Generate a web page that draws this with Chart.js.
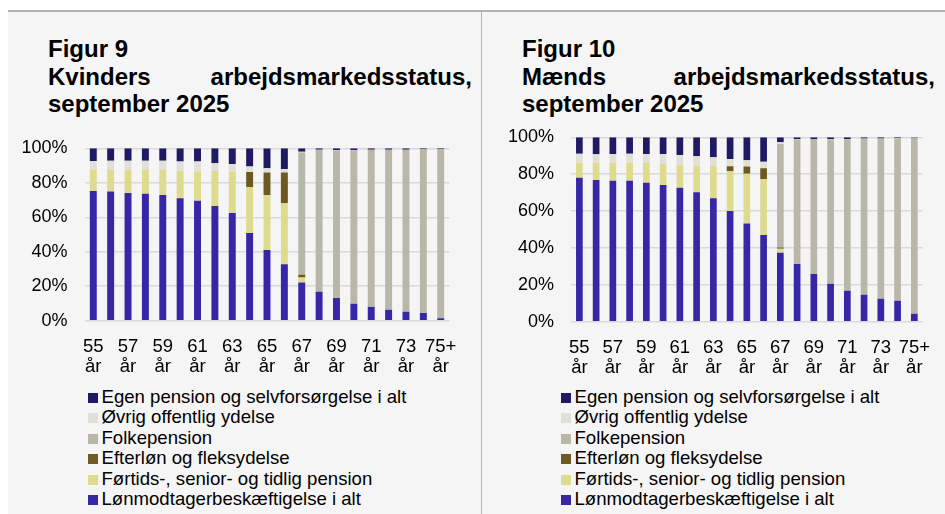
<!DOCTYPE html>
<html>
<head>
<meta charset="utf-8">
<script src="https://cdn.jsdelivr.net/npm/chart.js@4"></script>
<style>
  body { margin: 0; background: #fff; font-family: "Liberation Sans", Arial, sans-serif; color: #000; }
  .wrap { position: relative; width: 945px; height: 514px; overflow: hidden; }
  .panel { position: absolute; top: 11px; height: 503px; background: #f5f5f5; }
  .topline { position: absolute; left: 8px; top: 10px; width: 937px; height: 1.5px; background: #b3b3b3; }
  .sep { position: absolute; left: 480.5px; top: 11px; width: 1.5px; height: 503px; background: #b3b3b3; }
  .title { position: absolute; top: 35px; font-weight: bold; font-size: 24px; line-height: 27.5px; }
  .title .row { display: flex; justify-content: space-between; }
  canvas { position: absolute; }
  .legend { position: absolute; top: 387px; font-size: 18.6px; line-height: 20.4px; }
  .legend div { white-space: nowrap; }
  .legend span { display: inline-block; width: 10px; height: 10px; margin-right: 3.5px; vertical-align: 0px; }
</style>
</head>
<body>
<div class="wrap">
  <div class="panel" style="left:8px; width:473px;"></div>
  <div class="panel" style="left:482px; width:463px;"></div>
  <div class="topline"></div>
  <div class="sep"></div>

  <div class="title" style="left:48px; width:424px;">
    <div>Figur 9</div>
    <div class="row"><span>Kvinders</span><span>arbejdsmarkedsstatus,</span></div>
    <div>september 2025</div>
  </div>
  <div class="title" style="left:522px; width:413px;">
    <div>Figur 10</div>
    <div class="row"><span>Mænds</span><span>arbejdsmarkedsstatus,</span></div>
    <div>september 2025</div>
  </div>

  <canvas id="kvinder" width="470" height="260" style="left:0px; top:120px;"></canvas>
  <canvas id="maend" width="463" height="272" style="left:482px; top:109px;"></canvas>

  <div class="legend" id="legendK" style="left:88px;"></div>
  <div class="legend" id="legendM" style="left:561px;"></div>
</div>

<script>
let ages = ["55", "56", "57", "58", "59", "60", "61", "62", "63", "64", "65",
  "66", "67", "68", "69", "70", "71", "72", "73", "74", "75+"];

let seriesNames = [
  "Lønmodtagerbeskæftigelse i alt",
  "Førtids-, senior- og tidlig pension",
  "Efterløn og fleksydelse",
  "Folkepension",
  "Øvrig offentlig ydelse",
  "Egen pension og selvforsørgelse i alt"
];
let seriesColors = ["#3726a6", "#dedb8f", "#6c5a22", "#b9b7a7", "#e0dfd8", "#201a64"];

// Kvinder (pct.)
let kvLoen = [75.2, 75.0, 74.1, 73.7, 72.9, 71.0, 69.6, 66.5, 62.5, 50.9, 41.0, 32.7, 22.1, 16.8, 13.2, 9.9, 7.9, 6.4, 5.2, 4.4, 1.4];
let kvFoertid = [12.2, 12.4, 13.3, 13.7, 14.5, 15.8, 16.9, 20.3, 24.0, 26.7, 31.9, 35.4, 2.9, 0, 0, 0, 0, 0, 0, 0, 0];
let kvEfterloen = [0, 0, 0, 0, 0, 0, 0, 0, 0, 8.7, 13.0, 17.8, 1.7, 0, 0, 0, 0, 0, 0, 0, 0];
let kvFolke = [0, 0, 0, 0, 0, 0, 0, 0, 0, 0, 0, 0, 70.8, 82.2, 85.4, 88.7, 91.1, 92.6, 93.8, 95.0, 98.0];
let kvOevrig = [5.2, 5.4, 5.4, 5.4, 5.4, 5.5, 5.8, 4.5, 4.4, 3.1, 2.5, 2.1, 0.5, 0.2, 0.2, 0.2, 0.2, 0.2, 0.2, 0.1, 0.1];
let kvEgen = [7.4, 7.2, 7.2, 7.2, 7.2, 7.7, 7.7, 8.7, 9.1, 10.6, 11.6, 12.0, 2.0, 0.8, 1.2, 1.2, 0.8, 0.8, 0.8, 0.5, 0.5];

// Mænd (pct.)
let mLoen = [78.1, 76.9, 76.5, 76.5, 75.4, 74.1, 72.7, 70.2, 66.9, 60.0, 53.2, 47.0, 37.4, 31.3, 25.9, 20.6, 16.8, 14.6, 12.5, 11.4, 4.3];
let mFoertid = [8.2, 9.4, 9.8, 9.8, 10.9, 11.4, 12.3, 14.4, 17.7, 21.6, 27.1, 30.4, 2.2, 0, 0, 0, 0, 0, 0, 0, 0];
let mEfterloen = [0, 0, 0, 0, 0, 0, 0, 0, 0, 2.7, 3.8, 5.8, 0.7, 0, 0, 0, 0, 0, 0, 0, 0];
let mFolke = [0, 0, 0, 0, 0, 0, 0, 0, 0, 0, 0, 0, 56.1, 67.4, 72.7, 78.3, 82.1, 84.7, 86.8, 88.1, 95.5];
let mOevrig = [4.8, 4.5, 4.7, 4.8, 4.7, 5.5, 5.4, 5.1, 4.6, 3.9, 3.4, 3.6, 0.9, 0.2, 0.2, 0.2, 0.2, 0.1, 0.1, 0.1, 0];
let mEgen = [8.9, 9.2, 9.0, 8.9, 9.0, 9.0, 9.6, 10.3, 10.8, 11.8, 12.5, 13.2, 2.7, 1.1, 1.2, 0.9, 0.9, 0.6, 0.6, 0.4, 0.2];

let yTicks = [0, 20, 40, 60, 80, 100];
let fontFamily = '"Liberation Sans", Arial, sans-serif';

function makeChart(id, values, axisWidth, padding) {
  let ctx = document.getElementById(id).getContext("2d");
  let datasets = values.map(function (data, i) {
    return {
      label: seriesNames[i],
      data: data,
      backgroundColor: seriesColors[i],
      borderWidth: 0,
      barPercentage: 0.8,
      categoryPercentage: 0.5
    };
  });

  return new Chart(ctx, {
    type: "bar",
    data: { labels: ages, datasets: datasets },
    options: {
      responsive: false,
      animation: false,
      devicePixelRatio: 1,
      layout: { padding: padding },
      plugins: { legend: { display: false }, tooltip: { enabled: false } },
      scales: {
        x: {
          stacked: true,
          grid: { display: false },
          border: { display: false },
          afterFit: function (scale) { scale.height = 55; },
          ticks: {
            autoSkip: false,
            maxRotation: 0,
            padding: 8,
            color: "#000",
            font: { family: fontFamily, size: 18.5, lineHeight: "20px" },
            callback: function (value, index) {
              if (index % 2 !== 0) return "";
              return [ages[index], "år"];
            }
          }
        },
        y: {
          stacked: true,
          min: 0,
          max: 100,
          afterFit: function (scale) { scale.width = axisWidth; },
          afterBuildTicks: function (scale) {
            scale.ticks = yTicks.map(function (v) { return { value: v }; });
          },
          grid: { color: "#d9d9d9", lineWidth: 1.5, drawTicks: false },
          border: { display: false },
          ticks: {
            padding: 17,
            color: "#000",
            font: { family: fontFamily, size: 18 },
            callback: function (value) { return value + "%"; }
          }
        }
      }
    }
  });
}

makeChart("kvinder", [kvLoen, kvFoertid, kvEfterloen, kvFolke, kvOevrig, kvEgen], 84.6,
  { top: 28.3, right: 20.6, bottom: 4.3, left: 0 });
makeChart("maend", [mLoen, mFoertid, mEfterloen, mFolke, mOevrig, mEgen], 89,
  { top: 28.3, right: 22.3, bottom: 4.3, left: 0 });

// Legend, top series first as in the figure
function buildLegend(id) {
  let el = document.getElementById(id);
  for (let i = seriesNames.length - 1; i >= 0; i--) {
    let row = document.createElement("div");
    row.innerHTML = '<span style="background:' + seriesColors[i] + '"></span>' + seriesNames[i];
    el.appendChild(row);
  }
}
buildLegend("legendK");
buildLegend("legendM");
</script>
</body>
</html>
